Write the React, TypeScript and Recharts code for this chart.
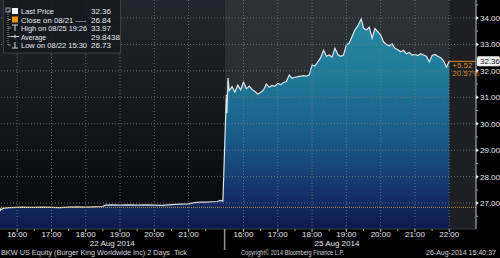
import React from 'react'
import {
  ComposedChart,
  Area,
  XAxis,
  YAxis,
  ReferenceArea,
  ReferenceLine,
} from 'recharts'

// 22 Aug 2014 session (tick data)
const day1Times = [
  '15:30', '15:31', '15:35', '15:45', '16:00', '16:10', '16:20', '16:30', '16:45', '17:00',
  '17:15', '17:30', '17:45', '18:00', '18:15', '18:30', '18:34', '18:45', '19:00', '19:15',
  '19:30', '19:45', '20:00', '20:15', '20:30', '20:45', '21:00', '21:10', '21:20', '21:30',
  '21:40', '21:50', '21:56', '22:00',
]
const day1Prices = [
  26.82, 26.73, 26.80, 26.83, 26.84, 26.85, 26.84, 26.84, 26.85, 26.84,
  26.83, 26.85, 26.86, 26.85, 26.86, 26.87, 26.92, 26.93, 26.92, 26.93,
  26.92, 26.93, 26.92, 26.91, 26.94, 26.96, 26.97, 27.02, 27.04, 27.04,
  27.05, 27.06, 27.10, 27.07,
]

// 25 Aug 2014 session
const day2Times = [
  '15:30', '15:31', '15:33', '15:35', '15:40', '15:45', '15:50', '15:55', '16:00', '16:05',
  '16:10', '16:15', '16:20', '16:25', '16:30', '16:35', '16:40', '16:45', '16:50', '16:55',
  '17:00', '17:05', '17:10', '17:15', '17:20', '17:25', '17:30', '17:35', '17:40', '17:45',
  '17:50', '17:55', '18:00', '18:05', '18:10', '18:15', '18:20', '18:25', '18:30', '18:35',
  '18:40', '18:45', '18:50', '18:55', '19:00', '19:05', '19:10', '19:15', '19:20', '19:26',
  '19:30', '19:35', '19:40', '19:45', '19:50', '19:55', '20:00', '20:05', '20:10', '20:15',
  '20:20', '20:25', '20:30', '20:35', '20:40', '20:45', '20:50', '20:55', '21:00', '21:05',
  '21:10', '21:15', '21:20', '21:25', '21:30', '21:35', '21:40', '21:45', '21:50', '21:55',
  '22:00',
]
const day2Prices = [
  31.10, 30.40, 31.73, 31.25, 31.40, 31.20, 31.46, 31.28, 31.58, 31.32,
  31.42, 31.30, 31.22, 31.12, 31.18, 31.28, 31.50, 31.38, 31.45, 31.42,
  31.52, 31.48, 31.56, 31.60, 31.84, 31.72, 31.76, 31.78, 31.80, 31.82,
  31.80, 31.84, 32.22, 32.18, 32.34, 32.50, 32.78, 32.55, 32.60, 32.52,
  32.86, 32.62, 32.55, 32.60, 32.98, 33.05, 33.30, 33.55, 33.70, 33.97,
  33.62, 33.55, 33.65, 33.24, 33.60, 33.48, 33.35, 33.10, 33.00, 32.95,
  33.02, 32.85, 32.80, 32.72, 32.78, 32.65, 32.70, 32.60, 32.62, 32.58,
  32.65, 32.60, 32.55, 32.34, 32.58, 32.62, 32.55, 32.50, 32.38, 32.14,
  32.36,
]

const hourLabels = [16, 17, 18, 19, 20, 21, 22]
const yTicks = [26.5, 27, 27.5, 28, 28.5, 29, 29.5, 30, 30.5, 31, 31.5, 32, 32.5, 33, 33.5, 34, 34.5]
const gridY = [27, 28, 29, 30, 31, 32, 33, 34]
const dateLabels = ['22 Aug 2014', '25 Aug 2014']

const legendRows = [
  ['Last Price', '32.36'],
  ['Close on 08/21 ----', '26.84'],
  ['High on 08/25 19:26', '33.97'],
  ['Average', '29.8438'],
  ['Low on 08/22 15:30', '26.73'],
]

const CLOSE = 26.84
const LAST = 32.36
const CHANGE = '+5.52'
const CHANGE_PCT = '20.57%'

// axis runs in hours from the first session open; second session is shifted
const OPEN = 15.5
const DAY2_SHIFT = 6.6
const BREAK = 6.55
const DAY2_END = 22 - OPEN + DAY2_SHIFT
const X_MAX = 13.88
const Y_MIN = 26.02
const Y_MAX = 34.68

const toHours = (s: string) => {
  const [h, m] = s.split(':').map(Number)
  return h + m / 60
}

const data = [
  ...day1Times.map((t, i) => ({ idx: toHours(t) - OPEN, price: day1Prices[i] })),
  ...day2Times.map((t, i) => ({ idx: toHours(t) - OPEN + DAY2_SHIFT, price: day2Prices[i] })),
]

const key = (v: number) => Math.round(v * 1000)
const tickKind = new Map<number, { kind: string; label?: string }>()
hourLabels.forEach(h => {
  if (h < 22) {
    tickKind.set(key(h - OPEN), { kind: 'hour', label: `${h}:00` })
    tickKind.set(key(h + 0.5 - OPEN), { kind: 'half' })
  }
  tickKind.set(key(h - OPEN + DAY2_SHIFT), { kind: 'hour', label: `${h}:00` })
  if (h < 22) tickKind.set(key(h + 0.5 - OPEN + DAY2_SHIFT), { kind: 'half' })
})
tickKind.set(key(BREAK), { kind: 'sep' })
tickKind.set(key(BREAK / 2), { kind: 'date', label: dateLabels[0] })
tickKind.set(key((BREAK + DAY2_END) / 2), { kind: 'date', label: dateLabels[1] })
const xTicks = Array.from(tickKind.keys()).map(k => k / 1000).sort((a, b) => a - b)

const gridX = [
  ...hourLabels.filter(h => h < 22).map(h => h - OPEN),
  ...hourLabels.map(h => h - OPEN + DAY2_SHIFT),
]

const TEXT = '#e6e8ea'

function XTick(props: any) {
  const { x, y, payload } = props
  const info = tickKind.get(key(payload.value))
  if (!info) return null
  if (info.kind === 'sep') {
    return <line x1={x} x2={x} y1={y} y2={y + 21} stroke="#8c9196" strokeWidth={1.5} />
  }
  if (info.kind === 'date') {
    return (
      <text x={x} y={y + 17} textAnchor="middle" fill={TEXT} fontSize={8}>
        {info.label}
      </text>
    )
  }
  if (info.kind === 'half') {
    return <line x1={x} x2={x} y1={y} y2={y + 2} stroke="#9a9fa4" />
  }
  return (
    <g>
      <line x1={x} x2={x} y1={y} y2={y + 3} stroke="#c0c4c8" />
      <text x={x} y={y + 8} textAnchor="middle" fill={TEXT} fontSize={8}>
        {info.label}
      </text>
    </g>
  )
}

function YTick(props: any) {
  const { x, y, payload } = props
  const v = payload.value
  if (Math.abs(v - Math.round(v)) > 0.01) {
    return <line x1={x} x2={x + 2} y1={y} y2={y} stroke="#9a9fa4" />
  }
  return (
    <g>
      <path d={`M${x},${y - 2}L${x + 3},${y}L${x},${y + 2}Z`} fill="#e0e0e0" />
      <text x={x + 4} y={y + 3} fill={TEXT} fontSize={8}>
        {v.toFixed(2)}
      </text>
    </g>
  )
}

function LastLabel(props: any) {
  const { x, y, width } = props.viewBox
  return (
    <g>
      <text x={x + 3} y={y + 6.5} fill="#d9892a" fontSize={8}>{CHANGE}</text>
      <text x={x + 3} y={y + 14.5} fill="#d9892a" fontSize={8}>{CHANGE_PCT}</text>
      <rect x={x + width + 1} y={y - 5} width={23} height={10} rx={1.5} fill="#f2f2f2" />
      <text x={x + width + 4} y={y + 3} fill="#111" fontSize={8}>{LAST.toFixed(2)}</text>
    </g>
  )
}

const legendWidths = [33, 65, 66, 25, 66]

export default function App() {
  return (
    <div
      style={{
        position: 'absolute',
        left: 0,
        top: 0,
        width: 500,
        height: 258,
        background: '#000',
        fontFamily: '"Liberation Sans", Arial, sans-serif',
      }}
    >
      <ComposedChart width={500} height={258} data={data} margin={{ top: 0, right: 0, bottom: 0, left: 0 }}>
        <defs>
          <linearGradient id="day1Bg" x1="0" y1="0" x2="0" y2="1">
            <stop offset="0%" stopColor="#20272e" />
            <stop offset="100%" stopColor="#06070a" />
          </linearGradient>
          <linearGradient id="day2Bg" x1="0" y1="0" x2="0" y2="1">
            <stop offset="0%" stopColor="#2d3238" />
            <stop offset="100%" stopColor="#24282d" />
          </linearGradient>
          <linearGradient id="priceFill" x1="0" y1="0" x2="0" y2="1">
            <stop offset="0%" stopColor="#2889a3" />
            <stop offset="30%" stopColor="#1f7897" />
            <stop offset="60%" stopColor="#195686" />
            <stop offset="85%" stopColor="#142d68" />
            <stop offset="100%" stopColor="#0e1a4c" />
          </linearGradient>
        </defs>
        <XAxis
          type="number"
          dataKey="idx"
          domain={[0, X_MAX]}
          ticks={xTicks}
          interval={0}
          tick={(p: any) => <XTick {...p} />}
          tickLine={false}
          tickSize={0}
          tickMargin={0}
          height={29}
          axisLine={{ stroke: '#3a3d40' }}
          allowDataOverflow
        />
        <YAxis
          orientation="right"
          width={24}
          domain={[Y_MIN, Y_MAX]}
          ticks={yTicks}
          interval={0}
          tick={(p: any) => <YTick {...p} />}
          tickLine={false}
          tickSize={0}
          tickMargin={0}
          axisLine={{ stroke: '#bfc3c6' }}
          allowDataOverflow
        />
        <ReferenceArea x1={0} x2={BREAK} y1={Y_MIN} y2={Y_MAX} fill="url(#day1Bg)" fillOpacity={1} stroke="none" />
        <ReferenceArea x1={BREAK} x2={DAY2_END} y1={Y_MIN} y2={Y_MAX} fill="url(#day2Bg)" fillOpacity={1} stroke="none" />
        <ReferenceArea x1={DAY2_END} x2={X_MAX} y1={Y_MIN} y2={Y_MAX} fill="#1d1f22" fillOpacity={1} stroke="none" />
        <Area
          type="linear"
          dataKey="price"
          stroke="#dce4e8"
          strokeWidth={1.2}
          fill="url(#priceFill)"
          fillOpacity={1}
          isAnimationActive={false}
          dot={false}
          activeDot={false}
        />
        {gridX.map(v => (
          <ReferenceLine key={`gx-${v}`} x={v} stroke="#767c82" strokeDasharray="1 2" strokeOpacity={0.8} />
        ))}
        {gridY.map(v => (
          <ReferenceLine key={`gy-${v}`} y={v} stroke="#767c82" strokeDasharray="1 2" strokeOpacity={0.8} />
        ))}
        <ReferenceLine y={CLOSE} stroke="#c0913e" strokeDasharray="1 1" />
        <ReferenceLine
          segment={[{ x: DAY2_END, y: LAST }, { x: X_MAX, y: LAST }]}
          stroke="#d9892a"
          label={(p: any) => <LastLabel {...p} />}
        />
      </ComposedChart>
      <svg width={500} height={258} style={{ position: 'absolute', left: 0, top: 0, pointerEvents: 'none' }}>
        <rect x={3.5} y={-1} width={117} height={54} fill="#15191d" fillOpacity={0.85} stroke="#3b4045" />
        <line x1={8} x2={8} y1={12} y2={45} stroke="#8a8f94" strokeDasharray="1 1" />
        <rect x={6} y={8} width={4} height={4} fill="none" stroke="#9aa0a5" />
        {legendRows.map(([label, value], i) => {
          const cy = 11 + i * 8.5
          return (
            <g key={label}>
              <line x1={8} x2={11} y1={cy} y2={cy} stroke="#8a8f94" />
              {i === 0 && <rect x={12} y={cy - 3} width={6} height={6} fill="#f4f4f4" />}
              {i === 1 && <rect x={12} y={cy - 3} width={6} height={6} fill="#f0960e" />}
              {i === 2 && (
                <path d={`M12,${cy - 3}H18M15,${cy - 3}V${cy + 3}`} stroke="#d0d4d8" fill="none" />
              )}
              {i === 3 && (
                <path d={`M11,${cy}H19M15,${cy - 2}V${cy + 2}`} stroke="#d0d4d8" fill="none" />
              )}
              {i === 4 && (
                <path d={`M15,${cy - 3}V${cy + 3}M12,${cy + 3}H18`} stroke="#d0d4d8" fill="none" />
              )}
              <text x={21} y={cy + 3} fill={TEXT} fontSize={7.5} textLength={legendWidths[i]} lengthAdjust="spacingAndGlyphs">
                {label}
              </text>
              <text x={91} y={cy + 3} fill={TEXT} fontSize={8}>{value}</text>
            </g>
          )
        })}
        <text x={1} y={255} fill="#d4d6d8" fontSize={7.5} textLength={186} lengthAdjust="spacingAndGlyphs" xmlSpace="preserve">
          BKW US Equity (Burger King Worldwide Inc) 2 Days  Tick
        </text>
        <text x={241} y={255} fill="#d4d6d8" fontSize={7.5} textLength={103} lengthAdjust="spacingAndGlyphs">
          Copyright© 2014 Bloomberg Finance L.P.
        </text>
        <text x={426} y={255} fill="#d4d6d8" fontSize={7.5} textLength={70} lengthAdjust="spacingAndGlyphs">
          26-Aug-2014 15:40:37
        </text>
      </svg>
    </div>
  )
}
